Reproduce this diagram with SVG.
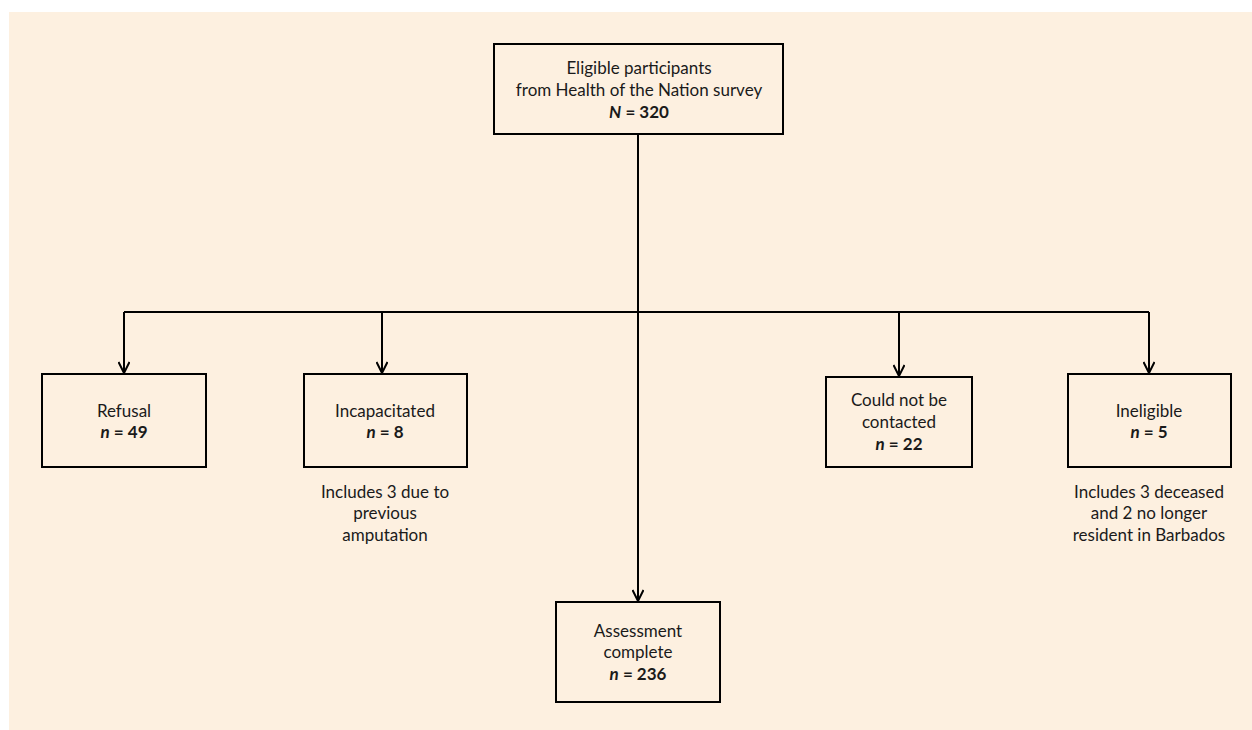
<svg xmlns="http://www.w3.org/2000/svg" width="1252" height="730" viewBox="0 0 1252 730">
<defs>
<marker id="arr" markerWidth="14" markerHeight="12" refX="12" refY="6" orient="auto" markerUnits="userSpaceOnUse">
<path d="M1,0.5 L12,6 L1,11.5" fill="none" stroke="#000" stroke-width="2"/>
</marker>
</defs>
<style>
.box{fill:none;stroke:#000;stroke-width:2}
.t{font-family:Lato,"Liberation Sans",sans-serif;font-size:17px;fill:#1a1a1a;text-anchor:middle}
.b{font-weight:bold}
.line{fill:none;stroke:#000;stroke-width:2}
</style>
<rect x="9" y="12" width="1243" height="718" fill="#fdf0e0"/>
<g id="connectors">
<path class="line" d="M638,134 V312"/>
<path class="line" d="M124,312 H1149"/>
<path class="line" d="M124,312 V373" marker-end="url(#arr)"/>
<path class="line" d="M382,312 V373" marker-end="url(#arr)"/>
<path class="line" d="M899,312 V376" marker-end="url(#arr)"/>
<path class="line" d="M1149,312 V373" marker-end="url(#arr)"/>
<path class="line" d="M638,312 V601" marker-end="url(#arr)"/>
</g>
<g id="eligible">
<rect class="box" x="494" y="44" width="289" height="90"/>
<text class="t" x="639" y="74">Eligible participants</text>
<text class="t" x="639" y="96">from Health of the Nation survey</text>
<text class="t b" x="639" y="118"><tspan font-style="italic">N</tspan> = 320</text>
</g>
<g id="refusal">
<rect class="box" x="42" y="374" width="164" height="93"/>
<text class="t" x="124" y="417">Refusal</text>
<text class="t b" x="124" y="438"><tspan font-style="italic">n</tspan> = 49</text>
</g>
<g id="incapacitated">
<rect class="box" x="304" y="374" width="163" height="93"/>
<text class="t" x="385" y="417">Incapacitated</text>
<text class="t b" x="385" y="438"><tspan font-style="italic">n</tspan> = 8</text>
<text class="t" x="385" y="498">Includes 3 due to</text>
<text class="t" x="385" y="519">previous</text>
<text class="t" x="385" y="541">amputation</text>
</g>
<g id="contacted">
<rect class="box" x="826" y="377" width="146" height="90"/>
<text class="t" x="899" y="406">Could not be</text>
<text class="t" x="899" y="428">contacted</text>
<text class="t b" x="899" y="450"><tspan font-style="italic">n</tspan> = 22</text>
</g>
<g id="ineligible">
<rect class="box" x="1068" y="374" width="163" height="93"/>
<text class="t" x="1149" y="417">Ineligible</text>
<text class="t b" x="1149" y="438"><tspan font-style="italic">n</tspan> = 5</text>
<text class="t" x="1149" y="498">Includes 3 deceased</text>
<text class="t" x="1149" y="519">and 2 no longer</text>
<text class="t" x="1149" y="541">resident in Barbados</text>
</g>
<g id="assessment">
<rect class="box" x="556" y="602" width="164" height="100"/>
<text class="t" x="638" y="637">Assessment</text>
<text class="t" x="638" y="658">complete</text>
<text class="t b" x="638" y="680"><tspan font-style="italic">n</tspan> = 236</text>
</g>
</svg>
